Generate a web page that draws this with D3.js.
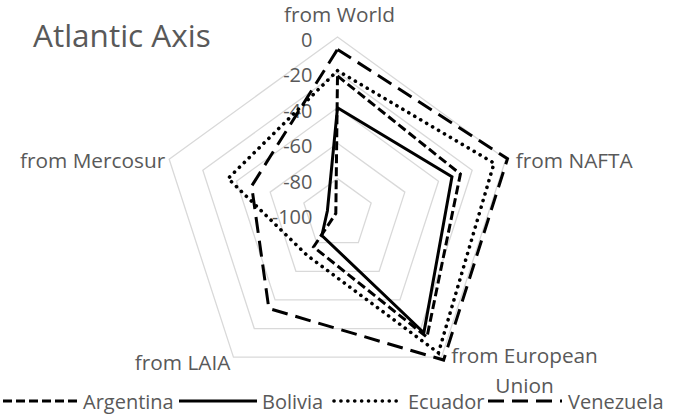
<!DOCTYPE html>
<html>
<head>
<meta charset="utf-8">
<script src="https://cdn.jsdelivr.net/npm/d3@7"></script>
<style>
  html, body { margin: 0; padding: 0; background: #fff; }
  svg text { font-family: "Open Sans", "Liberation Sans", sans-serif; fill: #595959; }
</style>
</head>
<body>
<svg id="chart" width="678" height="414"></svg>
<script>
const categories = ["from World", "from NAFTA", "from European Union", "from LAIA", "from Mercosur"];
const argentina = [-22, -27, -14, -77, -99];
const bolivia   = [-40, -32, -17, -85, -94];
const ecuador   = [-19, -7, -3, -71, -35];
const venezuela = [-7, 1, 2, -34, -49];
const tickValues = [0, -20, -40, -60, -80, -100];
const seriesNames = ["Argentina", "Bolivia", "Ecuador", "Venezuela"];

const series = [
  { name: seriesNames[0], values: argentina, dash: "9,4", cap: "butt", width: 3 },
  { name: seriesNames[1], values: bolivia, dash: null, cap: "butt", width: 3 },
  { name: seriesNames[2], values: ecuador, dash: "0.1,6.8", cap: "round", width: 3.6 },
  { name: seriesNames[3], values: venezuela, dash: "16,8", cap: "butt", width: 3 }
];

const svg = d3.select("#chart");
svg.append("rect").attr("width", 678).attr("height", 414).attr("fill", "#fff");

const cx = 337.5, cy = 214, R = 177;
const r = d3.scaleLinear().domain([-100, 0]).range([0, R]);
const angle = d3.scalePoint().domain(d3.range(categories.length + 1)).range([0, 2 * Math.PI]);

const g = svg.append("g").attr("transform", `translate(${cx},${cy})`);

// grid pentagons
const gridLine = d3.lineRadial().angle((d, i) => angle(i)).radius(d => r(d)).curve(d3.curveLinearClosed);
tickValues.filter(t => t > -100).forEach(t => {
  g.append("path")
    .attr("d", gridLine(categories.map(() => t)))
    .attr("fill", "none")
    .attr("stroke", "#d9d9d9")
    .attr("stroke-width", 1.3);
});

// tick labels
g.selectAll("text.tick").data(tickValues).join("text")
  .attr("class", "tick")
  .attr("x", -25)
  .attr("y", d => -r(d) + 2.5)
  .attr("text-anchor", "end")
  .attr("dominant-baseline", "central")
  .attr("font-size", 20)
  .text(d => d);

// series
const line = d3.lineRadial().angle((d, i) => angle(i)).radius(d => r(d)).curve(d3.curveLinearClosed);
series.forEach(s => {
  g.append("path")
    .attr("d", line(s.values))
    .attr("fill", "none")
    .attr("stroke", "#000")
    .attr("stroke-width", s.width)
    .attr("stroke-linecap", s.cap)
    .attr("stroke-linejoin", "miter")
    .attr("stroke-dasharray", s.dash);
});

// category labels
function vertex(i) {
  const a = angle(i);
  return [cx + Math.sin(a) * R, cy - Math.cos(a) * R];
}
const labelFont = 20.8;
let v = vertex(0);
svg.append("text").attr("x", v[0] + 2).attr("y", v[1] - 23).attr("text-anchor", "middle")
  .attr("dominant-baseline", "central").attr("font-size", labelFont).text(categories[0]);
v = vertex(1);
svg.append("text").attr("x", v[0] + 10).attr("y", v[1] + 1).attr("text-anchor", "start")
  .attr("dominant-baseline", "central").attr("font-size", labelFont).text(categories[1]);
v = vertex(2);
const euWords = categories[2].split(" ");
const eu = svg.append("text").attr("text-anchor", "middle").attr("font-size", labelFont);
eu.append("tspan").attr("x", v[0] + 83).attr("y", v[1] - 2).attr("dominant-baseline", "central")
  .text(euWords.slice(0, 2).join(" "));
eu.append("tspan").attr("x", v[0] + 83).attr("y", v[1] + 28).attr("dominant-baseline", "central")
  .text(euWords.slice(2).join(" "));
v = vertex(3);
svg.append("text").attr("x", v[0] - 3).attr("y", v[1] + 5).attr("text-anchor", "end")
  .attr("dominant-baseline", "central").attr("font-size", labelFont).text(categories[3]);
v = vertex(4);
svg.append("text").attr("x", v[0] - 4).attr("y", v[1] + 1).attr("text-anchor", "end")
  .attr("dominant-baseline", "central").attr("font-size", labelFont).text(categories[4]);

// title
svg.append("text").attr("x", 33).attr("y", 47).attr("font-size", 31.5).text("Atlantic Axis");

// legend
const legendY = 401;
const legendSym = [[3, 78], [179, 257], [334, 403], [488, 562]];
const legendText = [83, 262, 408, 568];
series.forEach((s, i) => {
  svg.append("line")
    .attr("x1", legendSym[i][0]).attr("x2", legendSym[i][1]).attr("y1", legendY).attr("y2", legendY)
    .attr("stroke", "#000").attr("stroke-width", s.width)
    .attr("stroke-linecap", s.cap).attr("stroke-dasharray", s.dash);
  svg.append("text").attr("x", legendText[i]).attr("y", legendY).attr("dominant-baseline", "central")
    .attr("font-size", 20).text(s.name);
});
</script>
</body>
</html>
